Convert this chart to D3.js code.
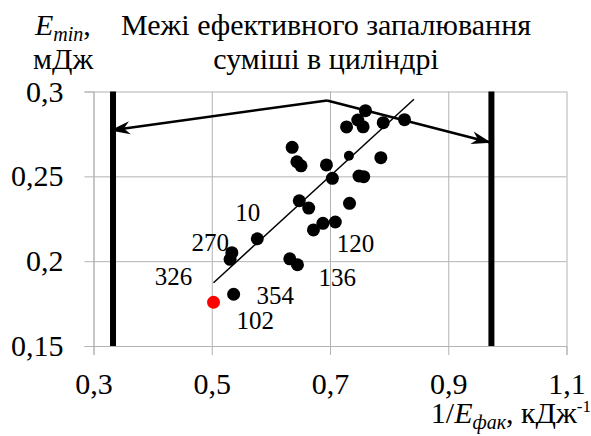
<!DOCTYPE html>
<html><head><meta charset="utf-8">
<script src="https://cdn.jsdelivr.net/npm/d3@7"></script>
<style>
svg text, svg tspan { font-family: "Liberation Serif", "Times New Roman", serif !important; }
</style>
</head>
<body style="margin:0"><svg id="c" width="591" height="436"></svg>
<script>
// ---- data ----
const xTicks = [0.3, 0.5, 0.7, 0.9, 1.1];
const yTicks = [0.15, 0.2, 0.25, 0.3];
const pointX = [0.760, 0.747, 0.756, 0.728, 0.790, 0.826, 0.636, 0.644, 0.651, 0.694, 0.704, 0.749, 0.757, 0.786,
                0.648, 0.664, 0.733, 0.672, 0.688, 0.709, 0.577, 0.534, 0.531, 0.632, 0.645, 0.537];
const pointY = [0.2887, 0.2832, 0.2792, 0.2791, 0.2816, 0.2834, 0.2671, 0.2586, 0.2562, 0.2567, 0.2488, 0.2502, 0.2498, 0.2610,
                0.2356, 0.2313, 0.2341, 0.2184, 0.2223, 0.2231, 0.2132, 0.2050, 0.2011, 0.2014, 0.1979, 0.1805];
const smallX = [0.732];
const smallY = [0.2621];
const redX = [0.503];
const redY = [0.1758];
const trendX = [0.503, 0.842];
const trendY = [0.1873, 0.2954];
const boundX = [0.333, 0.973];
const arrowLeftX = [0.695, 0.328];
const arrowLeftY = [0.2947, 0.2770];
const arrowRightX = [0.695, 0.973];
const arrowRightY = [0.2947, 0.2698];
const labelText = ["10", "270", "326", "354", "102", "120", "136"];
const labelX = [0.561, 0.4975, 0.4353, 0.6076, 0.5737, 0.7432, 0.7122];
const labelY = [0.2291, 0.2113, 0.1914, 0.1801, 0.1653, 0.2105, 0.1905];
const titleLines = ["Межі ефективного запалювання", "суміші в циліндрі"];

// ---- chart ----
const FONT = "Liberation Serif";
const svg = d3.select("#c").attr("font-family", FONT);
const x = d3.scaleLinear().domain([0.3, 1.1]).range([93.5, 566.5]);
const y = d3.scaleLinear().domain([0.15, 0.3]).range([346, 91.5]);
const fmt = d => String(d).replace(".", ",");
const grid = "#b3b3b3";
const txt = (sel, size) => sel.attr("font-family", FONT).style("font-family", FONT)
  .attr("font-size", size).attr("fill", "#000");

// gridlines
svg.append("g").attr("transform", `translate(0,${y(0.15)})`)
  .call(d3.axisBottom(x).tickValues(xTicks).tickSize(-(y(0.15) - y(0.3))).tickFormat(""))
  .call(g => g.select(".domain").remove())
  .call(g => g.selectAll("text").remove())
  .call(g => g.selectAll("line").attr("stroke", grid));
svg.append("g").attr("transform", `translate(${x(0.3)},0)`)
  .call(d3.axisLeft(y).tickValues(yTicks).tickSize(-(x(1.1) - x(0.3))).tickFormat(""))
  .call(g => g.select(".domain").remove())
  .call(g => g.selectAll("text").remove())
  .call(g => g.selectAll("line").attr("stroke", grid));

// axes
const xa = svg.append("g").attr("transform", `translate(0,${y(0.15)})`)
  .call(d3.axisBottom(x).tickValues(xTicks).tickSizeOuter(0).tickSize(9).tickPadding(18).tickFormat(fmt));
const ya = svg.append("g").attr("transform", `translate(${x(0.3)},0)`)
  .call(d3.axisLeft(y).tickValues(yTicks).tickSizeOuter(0).tickSize(9).tickPadding(21).tickFormat(fmt));
[xa, ya].forEach(a => {
  a.attr("font-family", FONT).attr("font-size", 30);
  a.select(".domain").attr("stroke", grid);
  a.selectAll("line").attr("stroke", grid);
  txt(a.selectAll("text"), 30);
});

// boundary lines
svg.append("g").selectAll("line").data(boundX).join("line")
  .attr("x1", d => x(d)).attr("x2", d => x(d))
  .attr("y1", y(0.3)).attr("y2", y(0.15))
  .attr("stroke", "#000").attr("stroke-width", 6);

// arrow marker
svg.append("defs").append("marker")
  .attr("id", "ah").attr("markerUnits", "userSpaceOnUse")
  .attr("viewBox", "-22 -8 24 16").attr("markerWidth", 24).attr("markerHeight", 16)
  .attr("refX", 0).attr("refY", 0).attr("orient", "auto")
  .append("path").attr("d", "M0,0 L-20,-6.5 L-14,0 L-20,6.5 Z").attr("fill", "#000");

const line = d3.line().x(d => x(d[0])).y(d => y(d[1]));
svg.append("path").datum(arrowLeftX.map((v, i) => [v, arrowLeftY[i]]))
  .attr("d", line).attr("fill", "none").attr("stroke", "#000").attr("stroke-width", 2.5)
  .attr("marker-end", "url(#ah)");
svg.append("path").datum(arrowRightX.map((v, i) => [v, arrowRightY[i]]))
  .attr("d", line).attr("fill", "none").attr("stroke", "#000").attr("stroke-width", 2.5)
  .attr("marker-end", "url(#ah)");

// points
svg.append("g").selectAll("circle").data(pointX.map((v, i) => [v, pointY[i]])).join("circle")
  .attr("cx", d => x(d[0])).attr("cy", d => y(d[1])).attr("r", 6.5).attr("fill", "#000");
svg.append("g").selectAll("circle").data(smallX.map((v, i) => [v, smallY[i]])).join("circle")
  .attr("cx", d => x(d[0])).attr("cy", d => y(d[1])).attr("r", 5).attr("fill", "#000");
svg.append("g").selectAll("circle").data(redX.map((v, i) => [v, redY[i]])).join("circle")
  .attr("cx", d => x(d[0])).attr("cy", d => y(d[1])).attr("r", 6.5).attr("fill", "#ff0000");

// trend line
svg.append("path").datum(trendX.map((v, i) => [v, trendY[i]]))
  .attr("d", line).attr("fill", "none").attr("stroke", "#000").attr("stroke-width", 1.5);

// point labels
txt(svg.append("g").selectAll("text").data(labelText).join("text")
  .attr("x", (d, i) => x(labelX[i])).attr("y", (d, i) => y(labelY[i]))
  .attr("dy", "0.35em").attr("text-anchor", "middle").text(d => d), 25);

// title
txt(svg.append("g").selectAll("text").data(titleLines).join("text")
  .attr("x", 326).attr("y", (d, i) => 35 + i * 34)
  .attr("text-anchor", "middle").text(d => d), 30);

// y-axis title
const yt = txt(svg.append("text").attr("x", 35).attr("y", 35), 30);
yt.append("tspan").attr("font-style", "italic").text("E");
yt.append("tspan").attr("font-style", "italic").attr("font-size", 20).attr("dy", 6).text("min");
yt.append("tspan").attr("dy", -6).text(",");
txt(svg.append("text").attr("x", 33).attr("y", 69).text("мДж"), 30);

// x-axis title
const xt = txt(svg.append("text").attr("x", 591).attr("y", 423).attr("text-anchor", "end"), 30);
xt.append("tspan").text("1/");
xt.append("tspan").attr("font-style", "italic").text("E");
xt.append("tspan").attr("font-style", "italic").attr("font-size", 20).attr("dy", 6).text("фак");
xt.append("tspan").attr("dy", -6).text(", кДж");
xt.append("tspan").attr("font-size", 17).attr("dy", -11).text("-1");
</script></body></html>
